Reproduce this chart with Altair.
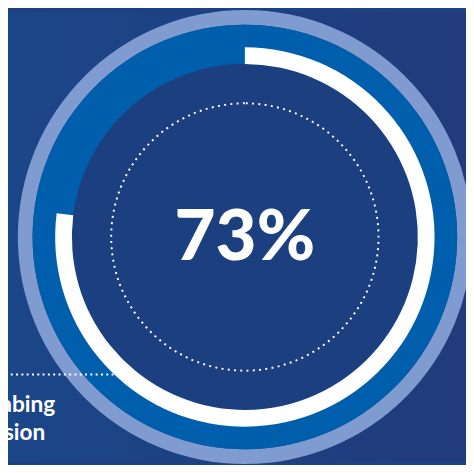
import altair as alt
import pandas as pd

# ---- data ----
progress_parts = ["done", "rest"]
progress_values = [77, 23]          # share of the ring drawn white (as drawn)
progress_colors = ["#ffffff", "rgba(0,0,0,0)"]
center_label = "73%"
caption_lines = ["abing", "sion"]

W, H = 466, 457
CX, CY = 241, 229

prog_df = pd.DataFrame({"part": progress_parts, "value": progress_values,
                        "ord": list(range(len(progress_parts)))})
one = pd.DataFrame({"value": [1]})

bg = alt.Chart(one).mark_rect(
    fill=alt.LinearGradient(
        gradient="linear", x1=0, x2=1, y1=0, y2=0,
        stops=[alt.GradientStop(offset=0, color="#1b4688"),
               alt.GradientStop(offset=1, color="#213b7b")]),
    strokeWidth=0,
).encode(x=alt.value(0), x2=alt.value(W), y=alt.value(0), y2=alt.value(H))

def ring(outer, inner, color):
    return alt.Chart(one).mark_arc(radius=outer, radius2=inner, fill=color,
                                   strokeWidth=0).encode(
        theta=alt.Theta("value:Q"), x=alt.value(CX), y=alt.value(CY))

light = ring(231, 216, "#7f9bd0")
blue = ring(216, 176, "#005fad")
inner = ring(176, 0, "#1c3f80")

dotted_circle = alt.Chart(one).mark_arc(
    radius=136, radius2=0, fillOpacity=0, stroke="white", strokeWidth=2,
    strokeDash=[2, 4.4]).encode(
    theta=alt.Theta("value:Q"), x=alt.value(CX), y=alt.value(CY))

line = alt.Chart(one).mark_rule(stroke="white", strokeWidth=2,
                                strokeDash=[2, 3.4]).encode(
    x=alt.value(-8), x2=alt.value(108), y=alt.value(369))

progress = alt.Chart(prog_df).mark_arc(radius=193, radius2=176,
                                       strokeWidth=0).encode(
    theta=alt.Theta("value:Q", stack=True),
    order=alt.Order("ord:Q"),
    color=alt.Color("part:N", scale=alt.Scale(domain=progress_parts,
                                              range=progress_colors),
                    legend=None),
    x=alt.value(CX), y=alt.value(CY))

big = alt.Chart(pd.DataFrame({"t": [center_label]})).mark_text(
    font="Lato", fontWeight=900, fontSize=72, color="white",
    align="center", baseline="alphabetic").encode(
    text="t:N", x=alt.value(CX), y=alt.value(252))

cap1 = alt.Chart(pd.DataFrame({"t": [caption_lines[0]]})).mark_text(
    font="Lato", fontWeight="bold", fontSize=23, color="white",
    align="right", baseline="alphabetic").encode(
    text="t:N", x=alt.value(48), y=alt.value(407))
cap2 = alt.Chart(pd.DataFrame({"t": [caption_lines[1]]})).mark_text(
    font="Lato", fontWeight="bold", fontSize=23, color="white",
    align="right", baseline="alphabetic").encode(
    text="t:N", x=alt.value(38), y=alt.value(436))

chart = alt.layer(bg, light, blue, inner, dotted_circle, line, progress,
                  big, cap1, cap2).resolve_scale(
    theta="independent", color="independent"
).properties(
    width=W, height=H, padding=0,
    autosize=alt.AutoSizeParams(type="none"),
    background="#1d4183",
).configure_view(stroke=None)

chart.save("out.html", embed_options={"renderer": "svg", "actions": False})
